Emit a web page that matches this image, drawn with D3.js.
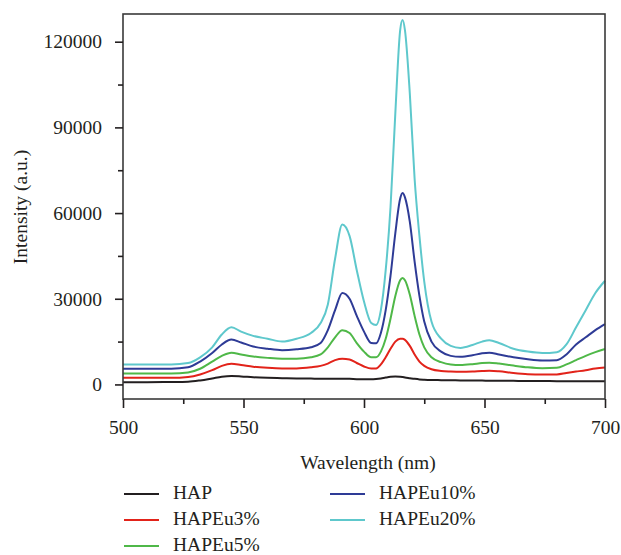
<!DOCTYPE html>
<html>
<head>
<meta charset="utf-8">
<script src="https://cdn.jsdelivr.net/npm/d3@7"></script>
<style>
  html, body { margin: 0; padding: 0; background: #fff; }
  svg { display: block; }
  text { font-family: "Liberation Serif", "DejaVu Serif", serif; fill: #231f20; }
</style>
</head>
<body>
<svg id="chart" width="621" height="555"></svg>
<script>
// ---- data ----
const wavelengths = [500, 510, 520, 527, 532, 537, 541, 545, 549, 554, 560, 566, 572, 578, 582, 585, 588, 591, 594, 597, 600, 603, 605, 607, 609, 611, 613, 615, 616, 617, 619, 621, 623, 625, 628, 632, 636, 640, 645, 649, 652, 656, 662, 668, 674, 680, 684, 688, 692, 696, 700];

const hap = [800, 800, 850, 950, 1400, 2100, 2700, 2950, 2800, 2500, 2300, 2200, 2100, 2050, 2000, 2000, 2000, 2000, 1950, 1850, 1800, 1800, 1900, 2100, 2400, 2650, 2750, 2700, 2600, 2450, 2200, 1950, 1750, 1650, 1550, 1500, 1450, 1400, 1350, 1350, 1300, 1300, 1250, 1200, 1200, 1150, 1150, 1150, 1150, 1150, 1150];

const hapEu3 = [2300, 2300, 2300, 2600, 3500, 5000, 6500, 7200, 6800, 6200, 5800, 5600, 5600, 6000, 6500, 7300, 8500, 9000, 8700, 7500, 6300, 5600, 5600, 7000, 9500, 12500, 15000, 16000, 16000, 15600, 13500, 10500, 8000, 6500, 5300, 4700, 4500, 4400, 4500, 4700, 4800, 4600, 4000, 3600, 3500, 3500, 4000, 4500, 5000, 5600, 5900];

const hapEu5 = [3800, 3800, 3800, 4200, 5500, 8000, 10000, 11100, 10500, 9800, 9300, 9000, 9000, 9500, 10500, 13000, 16500, 19000, 18000, 14500, 11500, 9500, 9500, 11500, 16000, 23000, 31000, 36500, 37300, 36500, 31500, 24000, 17500, 13000, 9500, 7800, 7000, 6800, 7100, 7500, 7600, 7300, 6600, 6000, 5700, 5800, 7000, 8500, 10000, 11300, 12400];

const hapEu10 = [5500, 5500, 5500, 6000, 8000, 11000, 14000, 15700, 14700, 13300, 12500, 12000, 12300, 13000, 14500, 19000, 26000, 32000, 30000, 24000, 18500, 14500, 14400, 18000, 26000, 38000, 53000, 65000, 67000, 65500, 57000, 43000, 31000, 22000, 15000, 11500, 10000, 9700, 10200, 10900, 11100, 10500, 9500, 8800, 8400, 8500, 10500, 14000, 16500, 19000, 21100];

const hapEu20 = [7000, 7000, 7000, 7500, 9500, 13000, 17500, 20000, 18500, 17000, 16000, 15000, 16000, 18000, 21500, 28000, 44000, 56000, 52000, 40000, 29000, 21500, 20800, 26000, 40000, 62000, 95000, 124000, 127600, 124000, 102000, 72000, 52000, 36000, 22000, 16000, 13500, 12800, 13800, 15000, 15500, 14500, 12500, 11500, 11000, 11300, 14000, 20000, 26000, 32000, 36300];

const seriesNames = ["HAP", "HAPEu3%", "HAPEu5%", "HAPEu10%", "HAPEu20%"];
const seriesValues = [hap, hapEu3, hapEu5, hapEu10, hapEu20];
const seriesColors = ["#231f20", "#e2231a", "#4fb848", "#2e3b96", "#5ec8cc"];

const xTicksMajor = [500, 550, 600, 650, 700];
const xTicksMinor = [525, 575, 625, 675];
const yTicksMajor = [0, 30000, 60000, 90000, 120000];
const yTicksMinor = [15000, 45000, 75000, 105000];

const xLabel = "Wavelength (nm)";
const yLabel = "Intensity (a.u.)";

// ---- layout ----
const svg = d3.select("#chart");
const mLeft = 123, mRight = 605, mTop = 14, mBottom = 399;

const x = d3.scaleLinear().domain([500, 700]).range([mLeft, mRight]);
const y = d3.scaleLinear().domain([-5100, 129700]).range([mBottom, mTop]);

const fontSize = 19.5;
const fontFam = "'Liberation Serif', 'DejaVu Serif', serif";
const axisColor = "#3a3a3a";

// lines
const plot = svg.append("g");
const line = d3.line()
  .x((d, i) => x(wavelengths[i]))
  .y(d => y(d))
  .curve(d3.curveMonotoneX);

seriesValues.forEach((vals, k) => {
  plot.append("path")
    .datum(vals)
    .attr("d", line)
    .attr("fill", "none")
    .attr("stroke", seriesColors[k])
    .attr("stroke-width", 2)
    .attr("stroke-linejoin", "round");
});

// frame
svg.append("rect")
  .attr("x", mLeft).attr("y", mTop)
  .attr("width", mRight - mLeft).attr("height", mBottom - mTop)
  .attr("fill", "none").attr("stroke", axisColor).attr("stroke-width", 1.6);

// x axis
const xAxis = d3.axisBottom(x).tickValues(xTicksMajor).tickSize(9).tickPadding(12)
  .tickFormat(d3.format("d"));
const gx = svg.append("g").attr("transform", `translate(0,${mBottom})`).call(xAxis);
const gxm = svg.append("g").attr("transform", `translate(0,${mBottom})`)
  .call(d3.axisBottom(x).tickValues(xTicksMinor).tickSize(5).tickFormat(""));

// y axis
const yAxis = d3.axisLeft(y).tickValues(yTicksMajor).tickSize(8).tickPadding(13)
  .tickFormat(d3.format("d"));
const gy = svg.append("g").attr("transform", `translate(${mLeft},0)`).call(yAxis);
const gym = svg.append("g").attr("transform", `translate(${mLeft},0)`)
  .call(d3.axisLeft(y).tickValues(yTicksMinor).tickSize(5).tickFormat(""));

[gx, gxm, gy, gym].forEach(g => {
  g.attr("font-family", fontFam);
  g.select(".domain").remove();
  g.selectAll(".tick line").attr("stroke", "#231f20").attr("stroke-width", 1.6);
  g.selectAll(".tick text")
    .style("font-family", fontFam)
    .attr("font-size", fontSize)
    .attr("fill", "#231f20");
});

// axis titles
svg.append("text")
  .attr("x", (mLeft + mRight) / 2 + 4).attr("y", 469)
  .attr("text-anchor", "middle").attr("font-size", fontSize)
  .style("font-family", fontFam)
  .text(xLabel);

svg.append("text")
  .attr("transform", `translate(27,207) rotate(-90)`)
  .attr("text-anchor", "middle").attr("font-size", fontSize)
  .style("font-family", fontFam)
  .text(yLabel);

// legend
const legendPos = [
  {x: 124, y: 494}, {x: 124, y: 520}, {x: 124, y: 546},
  {x: 330, y: 494}, {x: 330, y: 520}
];
const lg = svg.append("g");
seriesNames.forEach((name, k) => {
  const p = legendPos[k];
  lg.append("line")
    .attr("x1", p.x).attr("x2", p.x + 35)
    .attr("y1", p.y).attr("y2", p.y)
    .attr("stroke", seriesColors[k]).attr("stroke-width", 2.2);
  lg.append("text")
    .attr("x", p.x + 49).attr("y", p.y + 5)
    .attr("font-size", fontSize)
    .style("font-family", fontFam)
    .text(name);
});
</script>
</body>
</html>
